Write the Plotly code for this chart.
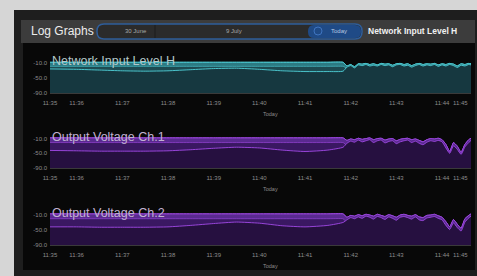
import plotly.graph_objects as go

W, H = 477, 276

# ---------------- data ----------------
DAY = "2024-07-09 "
hist_times = ["11:35:25", "11:36:00", "11:36:30", "11:37:00", "11:37:30", "11:38:00", "11:38:30",
              "11:39:00", "11:39:30", "11:40:00", "11:40:30", "11:41:00", "11:41:30", "11:41:50"]
recent_times = ["11:41:55", "11:42:00", "11:42:05", "11:42:10", "11:42:15", "11:42:20", "11:42:25",
                "11:42:30", "11:42:35", "11:42:40", "11:42:45", "11:42:50", "11:42:55",
                "11:43:00", "11:43:05", "11:43:10", "11:43:15", "11:43:20", "11:43:25",
                "11:43:30", "11:43:35", "11:43:40", "11:43:45", "11:43:50", "11:43:55",
                "11:44:00", "11:44:05", "11:44:10", "11:44:15", "11:44:20", "11:44:25",
                "11:44:30", "11:44:35", "11:44:38"]
times = [DAY + t for t in hist_times + recent_times]

series_names = ["Network Input Level H", "Output Voltage Ch.1", "Output Voltage Ch.2"]

net_max = [-8, -8, -8, -8, -8, -8, -8, -8, -8, -8, -8, -8, -8, -8,
           -18, -14, -20, -12, -13, -11, -14, -12, -15, -11, -13, -12, -16, -12, -11, -14, -12,
           -17, -13, -11, -14, -12, -13, -11, -15, -12, -14, -11, -13, -18, -12, -14, -11, -12]
net_min = [-19, -19, -19, -19, -19, -19, -19, -19, -19, -19, -19, -19, -19, -19,
           -24, -21, -26, -19, -21, -18, -22, -19, -22, -18, -21, -19, -24, -19, -18, -23, -20,
           -25, -21, -18, -22, -19, -21, -18, -23, -19, -22, -18, -21, -27, -20, -22, -18, -19]
net_avg = [-26, -27, -29, -31, -32, -31, -28, -25, -24, -27, -31, -33, -33, -32,
           -21, -17, -23, -15, -17, -14, -18, -16, -18, -14, -17, -15, -20, -15, -14, -18, -16,
           -21, -17, -14, -18, -15, -17, -14, -19, -15, -18, -14, -17, -22, -16, -18, -14, -15]

ch1_max = [-7, -7, -7, -7, -7, -7, -7, -7, -7, -7, -7, -7, -7, -7,
           -14, -10, -12, -8, -11, -9, -7, -12, -9, -8, -13, -10, -9, -15, -11, -9, -8,
           -12, -10, -14, -18, -12, -9, -10, -8, -12, -25, -45, -20, -30, -48, -25, -12, -8]
ch1_min = [-20, -20, -20, -20, -20, -20, -20, -20, -20, -20, -20, -20, -20, -20,
           -28, -22, -26, -19, -25, -21, -18, -27, -22, -19, -28, -24, -21, -30, -25, -21, -19,
           -27, -23, -29, -33, -26, -21, -24, -20, -25, -45, -55, -38, -48, -58, -40, -28, -20]
ch1_avg = [-42, -43, -44, -44, -44, -43, -40, -36, -33, -35, -41, -45, -41, -33,
           -22, -16, -19, -13, -18, -15, -12, -20, -15, -13, -21, -17, -15, -23, -18, -15, -13,
           -20, -16, -22, -26, -19, -15, -17, -14, -18, -35, -50, -29, -39, -53, -32, -20, -14]

ch2_max = [-7, -7, -7, -7, -7, -7, -7, -7, -7, -7, -7, -7, -7, -7,
           -16, -11, -13, -9, -12, -8, -10, -13, -8, -11, -14, -9, -12, -16, -10, -8, -11,
           -13, -9, -15, -17, -11, -10, -8, -12, -16, -28, -42, -22, -35, -46, -20, -11, -7]
ch2_min = [-20, -20, -20, -20, -20, -20, -20, -20, -20, -20, -20, -20, -20, -20,
           -30, -24, -27, -21, -26, -19, -23, -28, -20, -24, -29, -22, -26, -31, -23, -20, -24,
           -28, -21, -30, -32, -25, -23, -20, -26, -30, -47, -56, -40, -52, -60, -38, -26, -19]
ch2_avg = [-42, -42, -43, -43, -43, -42, -38, -33, -29, -32, -39, -42, -38, -30,
           -23, -17, -20, -15, -19, -13, -16, -21, -14, -17, -22, -15, -19, -24, -16, -14, -17,
           -21, -15, -23, -25, -18, -16, -14, -19, -23, -38, -49, -31, -44, -53, -29, -18, -13]

y_tick_vals = [-10, -50, -90]
y_tick_text = ["-10.0", "-50.0", "-90.0"]
Y_RANGE = [-91, -4.5]
X_RANGE = [DAY + "11:35:25", DAY + "11:44:38"]
x_tick_vals = [DAY + t for t in ["11:35:25", "11:36:00", "11:37:00", "11:38:00", "11:39:00",
                                 "11:40:00", "11:41:00", "11:42:00", "11:43:00", "11:44:00", "11:44:24"]]
x_tick_text = ["11:35", "11:36", "11:37", "11:38", "11:39", "11:40", "11:41", "11:42", "11:43",
               "11:44", "11:45"]

# ---------------- layout helpers ----------------
def px(x):
    return x / W


def py(y):
    return 1 - y / H


FONT = "Liberation Sans"
panels = [
    dict(maxv=net_max, minv=net_min, avg=net_avg, top=61, bottom=93,
         mid="#1d4b52", light="#2c7a82", dark="#163840", line="#4fd0d8", title_c="#b4c8ca"),
    dict(maxv=ch1_max, minv=ch1_min, avg=ch1_avg, top=137, bottom=168,
         mid="#3a1862", light="#5a2a90", dark="#261040", line="#a24ae6", title_c="#c2b2d2"),
    dict(maxv=ch2_max, minv=ch2_min, avg=ch2_avg, top=213, bottom=245,
         mid="#3a1862", light="#5a2a90", dark="#261040", line="#a24ae6", title_c="#c2b2d2"),
]

fig = go.Figure()
layout_axes = {}
annotations = []

for i, p in enumerate(panels):
    n = i + 1
    xa = "x" if n == 1 else f"x{n}"
    ya = "y" if n == 1 else f"y{n}"
    floor = [Y_RANGE[0]] * len(times)
    common = dict(x=times, xaxis=xa, yaxis=ya, showlegend=False, hoverinfo="skip")
    fig.add_trace(go.Scatter(y=floor, mode="lines", line=dict(width=0), **common))
    fig.add_trace(go.Scatter(y=p["maxv"], mode="lines", fill="tonexty", fillcolor=p["mid"],
                             line=dict(color=p["line"], width=1, shape="spline", smoothing=0.3),
                             **common))
    fig.add_trace(go.Scatter(y=p["minv"], mode="lines",
                             line=dict(color=p["line"], width=0.6, shape="spline", smoothing=0.3),
                             opacity=0.6, **common))
    fig.add_trace(go.Scatter(y=p["maxv"], mode="lines", fill="tonexty", fillcolor=p["light"],
                             line=dict(color=p["line"], width=0.9, shape="spline", smoothing=0.3),
                             **common))
    fig.add_trace(go.Scatter(y=floor, mode="lines", line=dict(width=0), **common))
    fig.add_trace(go.Scatter(y=p["avg"], mode="lines", fill="tonexty", fillcolor=p["dark"],
                             line=dict(color=p["line"], width=0.9, shape="spline", smoothing=0.5),
                             **common))

    xkey = "xaxis" if n == 1 else f"xaxis{n}"
    ykey = "yaxis" if n == 1 else f"yaxis{n}"
    layout_axes[xkey] = dict(
        domain=[px(50), px(471)], anchor=ya, type="date", range=X_RANGE,
        tickvals=x_tick_vals, ticktext=x_tick_text, tickangle=0,
        tickfont=dict(size=6, color="#8c8c8c", family=FONT),
        showgrid=False, zeroline=False, showline=True, linecolor="#3a3a3a", linewidth=1,
        ticks="", ticklabelstandoff=4, fixedrange=True, automargin=False,
    )
    layout_axes[ykey] = dict(
        domain=[py(p["bottom"]), py(p["top"])], anchor=xa, range=Y_RANGE,
        tickvals=y_tick_vals, ticktext=y_tick_text,
        tickfont=dict(size=6, color="#8c8c8c", family=FONT),
        showgrid=False, zeroline=False, showline=False, ticks="", ticklabelstandoff=2,
        fixedrange=True, automargin=False,
    )
    annotations.append(dict(
        text=series_names[i], xref=f"{xa} domain", yref=f"{ya} domain", x=0.0, y=1.0,
        xanchor="left", yanchor="middle", showarrow=False,
        font=dict(size=12.5, color=p["title_c"], family=FONT),
    ))
    annotations.append(dict(
        text="Today", xref=xa, yref="paper", x=DAY + "11:40:15", y=py(p["bottom"] + 21),
        xanchor="center", yanchor="middle", showarrow=False,
        font=dict(size=5.5, color="#8c8c8c", family=FONT),
    ))

# header texts
annotations += [
    dict(text="Log Graphs", xref="paper", yref="paper", x=px(29), y=py(31.5), xanchor="left",
         yanchor="middle", showarrow=False, font=dict(size=12, color="#ececec", family=FONT)),
    dict(text="30 June", xref="paper", yref="paper", x=px(136), y=py(31.5), xanchor="center",
         yanchor="middle", showarrow=False, font=dict(size=6, color="#a8a8a8", family=FONT)),
    dict(text="9 July", xref="paper", yref="paper", x=px(234), y=py(31.5), xanchor="center",
         yanchor="middle", showarrow=False, font=dict(size=6, color="#a8a8a8", family=FONT)),
    dict(text="Today", xref="paper", yref="paper", x=px(339), y=py(31.5), xanchor="center",
         yanchor="middle", showarrow=False, font=dict(size=6, color="#b8c8e0", family=FONT)),
    dict(text="<b>Network Input Level H</b>", xref="paper", yref="paper", x=px(366), y=py(31.5),
         xanchor="left", yanchor="middle", showarrow=False,
         font=dict(size=8.5, color="#f0f0f0", family=FONT)),
]


def rrect(x0, y0, x1, y1, r):
    X0, X1 = px(x0), px(x1)
    Y0, Y1 = py(y0), py(y1)
    rx, ry = r / W, r / H
    return (f"M {X0 + rx},{Y0} L {X1 - rx},{Y0} Q {X1},{Y0} {X1},{Y0 - ry} "
            f"L {X1},{Y1 + ry} Q {X1},{Y1} {X1 - rx},{Y1} L {X0 + rx},{Y1} "
            f"Q {X0},{Y1} {X0},{Y1 + ry} L {X0},{Y0 - ry} Q {X0},{Y0} {X0 + rx},{Y0} Z")


shapes = [
    dict(type="rect", xref="paper", yref="paper", x0=px(14), x1=px(477), y0=py(276), y1=py(10),
         fillcolor="#1e1e1e", line=dict(width=0), layer="below"),
    dict(type="rect", xref="paper", yref="paper", x0=px(21), x1=px(475), y0=py(43), y1=py(20),
         fillcolor="#3c3c3c", line=dict(width=0), layer="below"),
    dict(type="rect", xref="paper", yref="paper", x0=px(23), x1=px(475), y0=py(270), y1=py(43),
         fillcolor="#080808", line=dict(width=0), layer="below"),
    dict(type="path", xref="paper", yref="paper", path=rrect(97, 24, 362, 39, 7),
         fillcolor="#2b2b2b", line=dict(color="#2e5d9a", width=1.5), layer="below"),
    dict(type="path", xref="paper", yref="paper", path=rrect(308, 25, 361, 38, 6),
         fillcolor="#1f4a86", line=dict(width=0), layer="below"),
    dict(type="line", xref="paper", yref="paper", x0=px(155), x1=px(155), y0=py(25), y1=py(38),
         line=dict(color="#1c1c1c", width=1), layer="below"),
    dict(type="circle", xref="paper", yref="paper", x0=px(314), x1=px(322), y0=py(35), y1=py(27),
         line=dict(color="#3f74c0", width=1), layer="below"),
]

fig.update_layout(
    width=W, height=H, margin=dict(l=0, r=0, t=0, b=0, pad=0, autoexpand=False),
    paper_bgcolor="#d6d6d6", plot_bgcolor="rgba(0,0,0,0)",
    annotations=annotations, shapes=shapes, **layout_axes,
)

fig.write_html("out.html", config={"displayModeBar": False},
               post_script="document.body.style.margin='0px';")
